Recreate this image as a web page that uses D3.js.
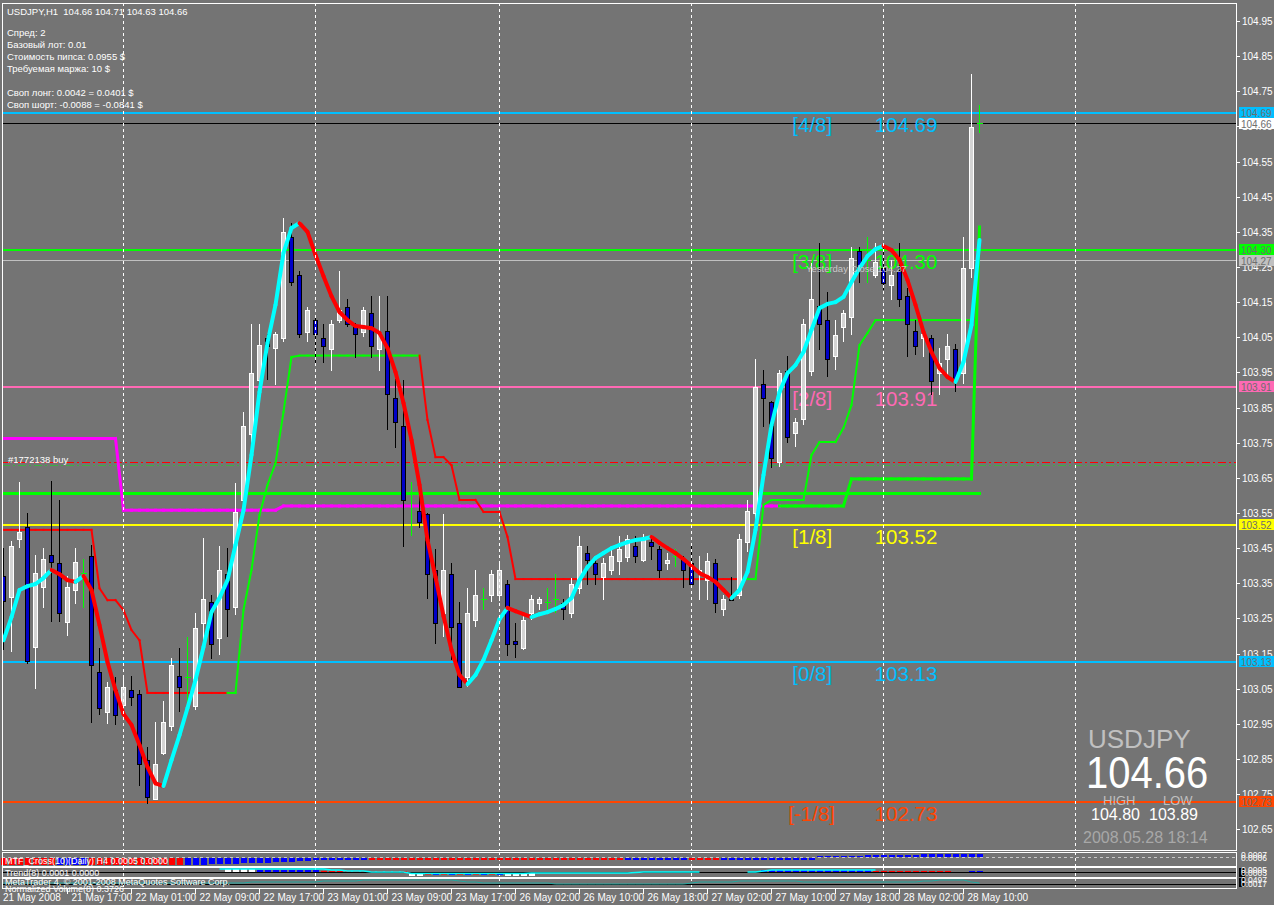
<!DOCTYPE html>
<html><head><meta charset="utf-8">
<script src="https://cdn.jsdelivr.net/npm/d3@7"></script>
<style>
body{margin:0;background:#747474;overflow:hidden}
svg{display:block}
text{font-family:"Liberation Sans",Arial,sans-serif;white-space:pre}
</style></head>
<body><svg id="c" width="1274" height="905"></svg>
<script>
// ---------------- DATA ----------------
const symbol = "USDJPY";
const header = "USDJPY,H1  104.66 104.71 104.63 104.66";
const infoLines = ["Спред: 2","Базовый лот: 0.01","Стоимость пипса: 0.0955 $","Требуемая маржа: 10 $","","Своп лонг: 0.0042 = 0.0401 $","Своп шорт: -0.0088 = -0.0841 $"];

const opens = [103.37,103.31,103.476,103.51,103.17,103.34,103.43,103.408,103.24,103.33,103.38,103.428,103.097,102.984,103.046,103.003,103.046,103.035,102.847,102.736,102.867,102.944,103.086,103.083,103.0,103.237,103.297,103.194,103.376,103.283,103.587,103.774,103.929,104.048,104.017,104.048,104.335,104.227,104.065,104.099,104.048,104.017,104.10,104.136,104.079,104.065,104.119,104.017,104.068,103.877,103.797,103.607,103.556,103.547,103.388,103.265,103.376,103.237,103.083,103.245,103.305,103.317,103.317,103.348,103.186,103.166,103.265,103.295,103.297,103.305,103.294,103.265,103.336,103.436,103.407,103.368,103.388,103.413,103.424,103.456,103.416,103.467,103.447,103.407,103.427,103.419,103.407,103.379,103.359,103.407,103.277,103.313,103.317,103.467,103.55,103.917,103.866,103.695,103.954,103.777,103.817,103.954,104.139,104.099,103.997,104.079,104.108,104.295,104.27,104.227,104.247,104.199,104.238,104.168,104.068,104.048,104.048,103.948,103.988,104.017,103.948,104.247,104.66];
const highs = [103.45,103.47,103.638,103.55,103.43,103.45,103.64,103.587,103.37,103.45,103.42,103.46,103.166,103.07,103.083,103.09,103.086,103.046,102.884,102.955,103.015,103.137,103.166,103.197,103.265,103.48,103.317,103.456,103.45,103.636,103.837,104.088,104.088,104.06,104.065,104.39,104.375,104.238,104.136,104.11,104.088,104.10,104.238,104.16,104.09,104.136,104.167,104.167,104.167,103.93,103.929,103.638,103.652,103.55,103.447,103.547,103.407,103.297,103.336,103.388,103.336,103.388,103.407,103.36,103.237,103.26,103.317,103.31,103.336,103.376,103.305,103.366,103.485,103.456,103.427,103.422,103.456,103.485,103.487,103.485,103.49,103.485,103.456,103.436,103.447,103.427,103.456,103.427,103.436,103.42,103.317,103.368,103.49,103.587,103.988,103.957,103.87,103.957,103.997,103.82,104.102,104.26,104.318,104.179,104.099,104.128,104.307,104.307,104.335,104.318,104.307,104.27,104.318,104.19,104.099,104.065,104.057,104.02,104.06,104.03,104.335,104.80,104.71];
const lows = [103.16,103.155,103.45,103.12,103.05,103.28,103.24,103.24,103.20,103.29,103.28,102.953,102.975,102.95,102.947,102.99,103.0,102.773,102.722,102.733,102.86,102.93,102.983,103.0,102.99,103.166,103.134,103.146,103.197,103.26,103.55,103.75,103.9,103.929,103.914,104.037,104.196,104.048,104.037,103.977,103.977,103.954,104.09,104.08,103.99,104.05,103.99,103.954,103.786,103.735,103.453,103.485,103.507,103.305,103.177,103.197,103.132,103.055,103.055,103.226,103.274,103.297,103.30,103.143,103.137,103.16,103.245,103.274,103.274,103.265,103.245,103.25,103.32,103.345,103.345,103.303,103.374,103.374,103.41,103.407,103.41,103.416,103.365,103.388,103.396,103.336,103.336,103.303,103.303,103.265,103.257,103.30,103.305,103.44,103.52,103.795,103.678,103.68,103.75,103.738,103.8,103.94,104.014,103.937,103.957,104.037,104.057,104.205,104.205,104.22,104.185,104.156,104.136,103.994,104.0,103.994,103.886,103.886,103.94,103.894,103.917,104.22,104.63];
const closes = [103.30,103.456,103.496,103.13,103.38,103.42,103.41,103.265,103.34,103.41,103.38,103.117,102.995,103.055,102.975,103.055,103.026,102.836,102.742,102.836,102.955,103.117,103.055,103.083,103.222,103.305,103.177,103.388,103.277,103.553,103.797,103.948,104.028,104.024,104.058,104.35,104.207,104.06,104.128,104.06,104.025,104.088,104.128,104.088,104.06,104.128,104.025,104.062,103.89,103.809,103.587,103.607,103.524,103.376,103.237,103.388,103.226,103.055,103.265,103.317,103.305,103.376,103.388,103.177,103.177,103.245,103.305,103.305,103.297,103.305,103.277,103.348,103.456,103.416,103.376,103.407,103.427,103.447,103.476,103.427,103.476,103.456,103.388,103.416,103.427,103.388,103.348,103.388,103.413,103.294,103.305,103.303,103.476,103.556,103.908,103.877,103.707,103.948,103.766,103.809,104.088,104.159,104.088,103.988,104.056,104.119,104.275,104.247,104.27,104.264,104.205,104.227,104.159,104.088,104.025,104.058,103.926,103.977,104.025,103.929,104.247,104.649,104.66];

// smoothed moving average (two-colour line)
const maLine = [103.188,103.254,103.331,103.342,103.348,103.365,103.388,103.376,103.359,103.354,103.371,103.331,103.231,103.126,103.046,102.978,102.947,102.890,102.827,102.781,102.773,102.847,102.918,102.995,103.075,103.169,103.268,103.308,103.359,103.459,103.558,103.715,103.894,104.034,104.142,104.290,104.361,104.375,104.350,104.284,104.224,104.167,104.122,104.099,104.082,104.079,104.076,104.062,104.019,103.951,103.863,103.758,103.630,103.473,103.368,103.257,103.160,103.089,103.063,103.089,103.132,103.188,103.248,103.280,103.271,103.262,103.254,103.262,103.268,103.277,103.288,103.308,103.359,103.396,103.422,103.436,103.450,103.459,103.467,103.473,103.476,103.482,103.465,103.450,103.436,103.419,103.399,103.379,103.368,103.354,103.331,103.308,103.331,103.382,103.502,103.658,103.800,103.894,103.948,103.971,104.008,104.071,104.133,104.145,104.150,104.165,104.207,104.247,104.281,104.301,104.310,104.298,104.270,104.213,104.142,104.065,104.008,103.962,103.937,103.923,103.980,104.085,104.327];

// trailing stop line (thin, red = down, green = up)
const stopLine = [103.502,103.502,103.502,103.502,103.502,103.502,103.502,103.502,103.502,103.502,103.502,103.502,103.336,103.302,103.302,103.274,103.217,103.188,103.038,103.038,103.038,103.038,103.038,103.038,103.038,103.038,103.038,103.038,103.038,103.038,103.274,103.388,103.544,103.630,103.692,103.837,103.994,103.998,103.998,103.998,103.998,103.998,103.998,103.998,103.998,103.998,103.998,103.998,103.998,103.998,103.998,103.998,103.998,103.815,103.709,103.709,103.686,103.587,103.587,103.587,103.553,103.553,103.553,103.482,103.362,103.362,103.362,103.362,103.362,103.362,103.362,103.362,103.362,103.362,103.362,103.362,103.362,103.362,103.362,103.362,103.362,103.362,103.362,103.362,103.362,103.362,103.362,103.362,103.362,103.362,103.362,103.362,103.362,103.362,103.362,103.573,103.587,103.587,103.587,103.587,103.587,103.715,103.752,103.752,103.752,103.792,103.857,104.028,104.062,104.099,104.099,104.099,104.099,104.099,104.099,104.099,104.099,104.099,104.099,104.099,104.099,104.099];
const stopDownRuns = [[0,28],[52,92]];   // bar ranges drawn red

// second step line (magenta, then green)
const stepLine = [103.762,103.762,103.762,103.762,103.762,103.762,103.762,103.762,103.762,103.762,103.762,103.762,103.762,103.762,103.762,103.558,103.558,103.558,103.558,103.558,103.558,103.558,103.558,103.558,103.558,103.558,103.558,103.558,103.558,103.558,103.558,103.558,103.558,103.558,103.558,103.570,103.570,103.570,103.570,103.570,103.570,103.570,103.570,103.570,103.570,103.570,103.570,103.570,103.570,103.570,103.570,103.570,103.570,103.570,103.570,103.570,103.570,103.570,103.570,103.570,103.570,103.570,103.570,103.570,103.570,103.570,103.570,103.570,103.570,103.570,103.570,103.570,103.570,103.570,103.570,103.570,103.570,103.570,103.570,103.570,103.570,103.570,103.570,103.570,103.570,103.570,103.570,103.570,103.570,103.570,103.570,103.570,103.570,103.570,103.570,103.570,103.570,103.570,103.570,103.570,103.570,103.570,103.570,103.570,103.570,103.570,103.647,103.647,103.647,103.647,103.647,103.647,103.647,103.647,103.647,103.647,103.647,103.647,103.647,103.647,103.647,103.647,104.364];
const stepMagentaUntil = 97;

// Murrey math levels
const mmLevels = [
  {name:"[4/8]", value:104.69, color:"#00bfff"},
  {name:"[3/8]", value:104.30, color:"#00ff00"},
  {name:"[2/8]", value:103.91, color:"#ff69b4"},
  {name:"[1/8]", value:103.52, color:"#ffff00"},
  {name:"[0/8]", value:103.13, color:"#00bfff"},
  {name:"[-1/8]", value:102.73, color:"#ff4500"}
];
const bidPrice = 104.66, yesterdayClose = 104.27, supportLine = 103.607;
const orderOpen = 103.696, orderLine2 = 103.686, orderLabel = "#1772138 buy";
const priceTicks = d3.range(0,24).map(k => +(104.95 - k*0.1).toFixed(2));
const timeLabels = ["21 May 2008","21 May 17:00","22 May 01:00","22 May 09:00","22 May 17:00","23 May 01:00","23 May 09:00","23 May 17:00","26 May 02:00","26 May 10:00","26 May 18:00","27 May 02:00","27 May 10:00","27 May 18:00","28 May 02:00","28 May 10:00"];
const gridBars = [15,39,62,86,110,134];
const dayHigh = "104.80", dayLow = "103.89", stamp = "2008.05.28 18:14";

// sub-window 1: MTF cross histogram (pixels, + up / - down) and colour runs
const mtfLabel = "MTF_Cross(10)(Daily) H4 0.0005 0.0000";
const mtfVals = [-7,-7,-7,-7,-7,-7,-7,-7,-7,-7,-7,-7,-7,-7,-7,-7,-7,-7,-7,-7,-7,-7,-7,-7,-7,-7,-6,-6,-6,-6,-5,-5,-5,-5,-4,-4,-4,-3,-3,-2,-2,-2,-2,-2,-2,-2,-2,-2,-2,-2,-2,-2,-2,-2,-2,-2,-2,-2,-2,-2,-2,-2,-2,-2,-2,-2,-2,-2,-2,-2,-2,-2,-2,-2,-2,-2,-2,-2,-2,-2,-2,-2,-2,-2,-2,-2,-2,-2,-2,-2,-2,-2,-2,-2,-2,-2,-2,-2,-2,-2,-2,-2,1,1,1,1,1,1,2,2,2,2,2,2,2,3,3,3,3,3,3,3,3];
const mtfRedRuns = [[0,6],[11,22],[46,77],[86,89]];
const mtfAxis = ["0.0007","0.0006"];
// sub-window 2: oscillator histogram, colours and signal
const oscLabel = "Trend(8) 0.0001 0.0000";
const oscVals = [0,0,0,0,0,0,0,0,0,0,0,0,0,0,0,0,0,0,0,0,0,0,0,0,0,0,0,0,3,3,3,3,2,2,2,2,2,2,2,2,1.5,1.5,1.5,1.5,1.5,1.5,1.5,1.5,1.5,1.5,1.5,-3,-3,-2,-2,-2,-2,-2,-2,-2,-2,-2,-2,-3,-3,-3,-3,0,0,0,0,0,0,0,0,0,0,0,0,0,0,0,0,0,0,0,0,0,0,0,0,0,0,0,0,2,2,2,2,2,2,2,2,2,2,2,2,2,2,1,1,1,1,1,1,1,1,1,1,0,0,1,1];
const oscColors = "nnnnnnnnnnnnnnnnnnnnnnnnnnnnwwwwbbbbbbbbrrrrrrrrrrrwwrbrbrbrbrbwwwwnnnnnnnnnnnnnnnnnnnnnnnnnnnnbbbbbbbbbbbbbbrrrrrrrrrrnnbb";
const oscSignal = [null,null,null,null,null,null,null,null,null,null,null,null,null,null,null,null,null,null,null,null,null,null,null,null,null,null,null,3,3,3,3,3,3,3,3,3,3,3,3,3,3,2,2,1,1,1,0,0,0,0,0,-1.5,-1.5,-1.5,-1.5,-1.5,-1.5,-1.5,-1.5,-1.5,-1.5,-1.5,-1.5,-1.5,-1.5,-1.5,-1,-1,-1,-1,-1,-1,-1,-1,-1,-1,-1,-1,-1,-0.5,0,0,0,0,0,0,0,0,null,null,null,null,null,0,0,1,2,2,2,2,2,2,2,2,2,2,2,2,2,2,null,null,null,null,null,null,null,null,null,null,null,null];
const oscAxis = ["0.0005","0.0003"];
// sub-window 3: normalized volume
const volLabel = "Normalized Volume(8) 0.3726";
const copyright = "MetaTrader 4, © 2001-2008 MetaQuotes Software Corp.";
const volVals = [1,1,1,1,1,1,1,1,1,1,1,1,1,1,1,1,1,1,1,1,1,1,1,1,1,1,1,1,1,1,1,2,2,2,2,2,2,2,2,2,3,3,3,3,3,4,4,4,4,4,4,4,4,4,4,4,4,3,2,2,1,1,1,1,1,1,1,1,1,0,0,0,0,0,0,0,0,0,0,0,0,0,0,0,0,0,1,2,2,2,2,2,3,3,3,3,3,3,3,3,2,2,2,2,2,2,2,2,2,2,2,2,2,2,2,3,3,4,4,4,4,2,1];
const volAxis = ["0.0497","0.0017"];

// ---------------- DRAW ----------------
const svg = d3.select("#c");
const W = 1274, H = 905;
const plotL = 2, plotR = 1236, plotT = 3, plotB = 850;
const x = d3.scaleLinear().domain([0,1]).range([3.5,11.5]);
const y = d3.scaleLinear().domain([102.65,104.95]).range([829.3,21]);
const n = opens.length;
const idx = d3.range(n);

svg.append("rect").attr("width",W).attr("height",H).attr("fill","#747474");
svg.append("defs").append("clipPath").attr("id","main")
  .append("rect").attr("x",plotL).attr("y",plotT).attr("width",plotR-plotL).attr("height",plotB-plotT);
const g = svg.append("g").attr("clip-path","url(#main)");

// grid (vertical dashed) in every window
const panels = [[plotT,plotB],[852,866],[867,877],[878,888]];
panels.forEach(([a,b]) => {
  svg.append("g").selectAll("line").data(gridBars).join("line")
    .attr("x1",d=>Math.round(x(d))-0.5).attr("x2",d=>Math.round(x(d))-0.5).attr("y1",a).attr("y2",b)
    .attr("stroke","#ffffff").attr("stroke-dasharray","3,3").attr("stroke-width",1);
});

// horizontal level lines
function hline(v, color, w, dash, x2) {
  g.append("line").attr("x1",plotL).attr("x2",x2||plotR).attr("y1",Math.round(y(v))+0.5).attr("y2",Math.round(y(v))+0.5)
    .attr("stroke",color).attr("stroke-width",w).attr("stroke-dasharray",dash||null).attr("shape-rendering","crispEdges");
}
mmLevels.forEach(l => hline(l.value, l.color, 2));
hline(bidPrice, "#000000", 1);
hline(yesterdayClose, "#c0c0c0", 1);
hline(orderOpen, "#ff0000", 1, "8,3,2,3");
hline(orderLine2, "#3cb043", 1, "8,3,2,3");
hline(supportLine, "#00ff00", 3, null, x(n-1)+1);

// Murrey labels
mmLevels.forEach(l => {
  g.append("text").attr("x", x(98.6)).attr("y", y(l.value)+20).attr("fill", l.color)
    .attr("font-size",20.5).attr("dx", l.name==="[-1/8]" ? -4 : 0).text(l.name);
  g.append("text").attr("x", x(108.9)).attr("y", y(l.value)+20).attr("fill", l.color)
    .attr("font-size",20.5).text(l.value.toFixed(2));
});

// step line magenta/green
for (let i=0;i<n-1;i++){
  g.append("line").attr("x1",x(i)).attr("x2",x(i+1)).attr("y1",y(stepLine[i])).attr("y2",y(stepLine[i+1]))
    .attr("stroke", i < stepMagentaUntil ? "#ff00ff" : "#00ff00").attr("stroke-width",3).attr("stroke-linecap","square");
}
// trailing stop (thin)
const isDown = i => stopDownRuns.some(([a,b]) => i>=a && i<b);
for (let i=0;i<n-2;i++){
  g.append("line").attr("x1",x(i)).attr("x2",x(i+1)).attr("y1",y(stopLine[i])).attr("y2",y(stopLine[i+1]))
    .attr("stroke", isDown(i) ? "#ff0000" : "#00ff00").attr("stroke-width",2).attr("stroke-linecap","square");
}

// candles
const doji = i => Math.abs(opens[i]-closes[i]) < 0.0005;
const bull = i => closes[i] > opens[i];
g.append("g").selectAll("line").data(idx).join("line")
  .attr("x1",i=>x(i)).attr("x2",i=>x(i)).attr("y1",i=>y(highs[i])).attr("y2",i=>y(lows[i]))
  .attr("stroke",i=> doji(i) ? "#00ff00" : bull(i) ? "#ffffff" : "#000000").attr("stroke-width",1).attr("shape-rendering","crispEdges");
g.append("g").selectAll("rect").data(idx.filter(i=>!doji(i))).join("rect")
  .attr("x",i=>x(i)-2).attr("width",4)
  .attr("y",i=>Math.round(y(Math.max(opens[i],closes[i])))+0.5)
  .attr("height",i=>Math.max(1,Math.round(Math.abs(y(opens[i])-y(closes[i])))))
  .attr("fill",i=>bull(i) ? "#d4d4d4" : "#0000c8")
  .attr("stroke",i=>bull(i) ? "#ffffff" : "#000000").attr("stroke-width",1).attr("shape-rendering","crispEdges");
g.append("g").selectAll("line").data(idx.filter(doji)).join("line")
  .attr("x1",i=>x(i)-3).attr("x2",i=>x(i)+3).attr("y1",i=>Math.round(y(closes[i]))+0.5).attr("y2",i=>Math.round(y(closes[i]))+0.5)
  .attr("stroke","#00ff00").attr("stroke-width",1).attr("shape-rendering","crispEdges");

// moving average two colour
for (let i=0;i<n-1;i++){
  g.append("line").attr("x1",x(i)).attr("x2",x(i+1)).attr("y1",y(maLine[i])).attr("y2",y(maLine[i+1]))
    .attr("stroke", maLine[i+1] >= maLine[i] ? "#00ffff" : "#ff0000").attr("stroke-width",4).attr("stroke-linecap","round");
}

// texts on chart
g.append("text").attr("x",7).attr("y",14.5).attr("fill","#ffffff").attr("font-size",9.5).text(header);
infoLines.forEach((t,k) => g.append("text").attr("x",7).attr("y",36+k*12).attr("fill","#ffffff").attr("font-size",9.5).text(t));
g.append("text").attr("x",8).attr("y",463).attr("fill","#ffffff").attr("font-size",9.5).text(orderLabel);
g.append("text").attr("x",806).attr("y",272).attr("fill","#c8c8c8").attr("font-size",9.5).text("Yesterday Close " + yesterdayClose.toFixed(2));

// info block
g.append("text").attr("x",1088).attr("y",748).attr("fill","#c0c0c0").attr("font-size",26).text(symbol);
g.append("text").attr("transform","translate(1086,788) scale(1,1.1)").attr("fill","#ffffff").attr("font-size",40).text(bidPrice.toFixed(2));
g.append("text").attr("x",1103).attr("y",805).attr("fill","#c0c0c0").attr("font-size",13).text("HIGH");
g.append("text").attr("x",1163).attr("y",805).attr("fill","#c0c0c0").attr("font-size",13).text("LOW");
g.append("text").attr("x",1091).attr("y",820).attr("fill","#ffffff").attr("font-size",16).text(dayHigh);
g.append("text").attr("x",1149).attr("y",820).attr("fill","#ffffff").attr("font-size",16).text(dayLow);
g.append("text").attr("x",1083).attr("y",843).attr("fill","#a8a8a8").attr("font-size",16).text(stamp);

// ---- sub windows ----
const subG = svg.append("g");
const isRed = i => mtfRedRuns.some(([a,b]) => i>=a && i<=b);
// window 1
const base1 = 857;
subG.append("line").attr("x1",plotL).attr("x2",plotR).attr("y1",base1+0.5).attr("y2",base1+0.5)
  .attr("stroke","#c8c8c8").attr("stroke-dasharray","3,3");
subG.append("g").selectAll("rect").data(idx).join("rect")
  .attr("x",i=>x(i)-3).attr("width",6)
  .attr("y",i=> mtfVals[i] >= 0 ? base1 - mtfVals[i] : base1+1).attr("height",i=>Math.abs(mtfVals[i]))
  .attr("fill",i=> isRed(i) ? "#ff0000" : "#0000ff").attr("shape-rendering","crispEdges");
subG.append("text").attr("x",5).attr("y",864).attr("fill","#ffffff").attr("font-size",9).text(mtfLabel);

// window 2
const base2 = 872;
subG.append("line").attr("x1",plotL).attr("x2",plotR).attr("y1",base2+0.5).attr("y2",base2+0.5).attr("stroke","#000000");
const oscCol = {w:"#ffffff", b:"#0000ff", r:"#ff0000"};
subG.append("g").selectAll("rect").data(idx.filter(i=>oscColors[i]!=="n" && oscVals[i]!==0)).join("rect")
  .attr("x",i=>x(i)-3).attr("width",6)
  .attr("y",i=> oscVals[i] >= 0 ? base2 - oscVals[i] : base2+1).attr("height",i=>Math.abs(oscVals[i]))
  .attr("fill",i=>oscCol[oscColors[i]]).attr("shape-rendering","crispEdges");
subG.append("path").datum(idx)
  .attr("d", d3.line().defined(i=>oscSignal[i]!==null).x(i=>x(i)).y(i=>base2 - oscSignal[i]))
  .attr("fill","none").attr("stroke","#00ffff").attr("stroke-width",1.5);
subG.append("text").attr("x",5).attr("y",876).attr("fill","#ffffff").attr("font-size",9).text(oscLabel);

// window 3
const base3 = 884;
subG.append("line").attr("x1",plotL).attr("x2",plotR).attr("y1",base3+0.5).attr("y2",base3+0.5).attr("stroke","#000000");
subG.append("path").datum(idx)
  .attr("d", d3.line().x(i=>x(i)).y(i=>base3 - volVals[i]))
  .attr("fill","none").attr("stroke","#20a8a0").attr("stroke-width",1);
subG.append("text").attr("x",5).attr("y",885).attr("fill","#ffffff").attr("font-size",9).text(copyright);

// borders
panels.forEach(([a,b]) => {
  svg.append("rect").attr("x",plotL+0.5).attr("y",a+0.5).attr("width",plotR-plotL).attr("height",b-a)
    .attr("fill","none").attr("stroke","#ffffff").attr("shape-rendering","crispEdges");
});
svg.append("text").attr("x",5).attr("y",892).attr("fill","#ffffff").attr("font-size",9).text(volLabel);

// price axis
const ax = svg.append("g");
priceTicks.forEach(p => {
  const yy = Math.round(y(p))+0.5;
  ax.append("line").attr("x1",plotR+1).attr("x2",plotR+4).attr("y1",yy).attr("y2",yy).attr("stroke","#ffffff").attr("shape-rendering","crispEdges");
  ax.append("text").attr("x",plotR+6).attr("y",yy+3.5).attr("fill","#ffffff").attr("font-size",10).text(p.toFixed(2));
});
const boxes = mmLevels.map(l=>({v:l.value,c:l.color})).concat([{v:bidPrice,c:"#ffffff"},{v:yesterdayClose,c:"#c0c0c0"}]);
boxes.forEach(b => {
  const yy = y(b.v);
  ax.append("rect").attr("x",plotR+3).attr("y",Math.round(yy)-5).attr("width",W-plotR-3).attr("height",11).attr("fill",b.c);
  ax.append("text").attr("x",plotR+5).attr("y",Math.round(yy)+4.5).attr("fill","#6e6e6e").attr("font-size",10).text(b.v.toFixed(2));
});
// sub-window axis labels (overlapping as in the terminal)
[[mtfAxis,857,860,null],[oscAxis,872,875,"#000000"],[volAxis,882,886,"#000000"]].forEach(([labs,y1,y2,bg]) => {
  if (bg) ax.append("rect").attr("x",plotR+3).attr("y",y1-4).attr("width",6).attr("height",9).attr("fill",bg);
  ax.append("text").attr("x",plotR+5).attr("y",y1+1).attr("fill","#ffffff").attr("font-size",8.5).text(labs[0]);
  ax.append("text").attr("x",plotR+5).attr("y",y2+1).attr("fill","#ffffff").attr("font-size",8.5).text(labs[1]);
});

// time axis
timeLabels.forEach((t,k) => {
  const xi = x(k*8);
  if (k>0) ax.append("line").attr("x1",Math.round(xi)-0.5).attr("x2",Math.round(xi)-0.5).attr("y1",889).attr("y2",894).attr("stroke","#ffffff");
  ax.append("text").attr("x", k===0 ? 3 : xi+4).attr("y",901).attr("fill","#ffffff").attr("font-size",10).text(t);
});
</script></body></html>
